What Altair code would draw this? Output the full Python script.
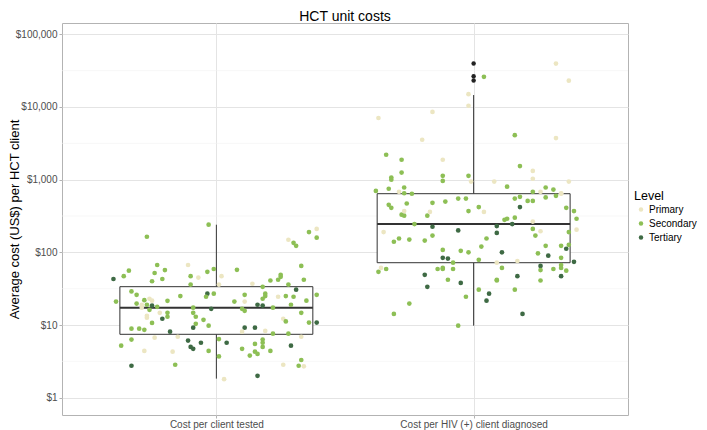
import altair as alt
import pandas as pd

# ---------------- data ----------------
chart_title = "HCT unit costs"
categories = ["Cost per client tested", "Cost per HIV (+) client diagnosed"]
levels = ["Primary", "Secondary", "Tertiary"]
level_colors = ["#ECE6C2", "#8DBF55", "#3E6A44"]
level_codes = {"P": "Primary", "S": "Secondary", "T": "Tertiary"}

# box-plot summaries (per category)
box_q1 = [7.45, 72]
box_median = [17.3, 245]
box_q3 = [33.7, 641]
box_lower = [1.83, 9.8]
box_upper = [240, 14600]

# outliers drawn by the box plot
outlier_cat = [2, 2, 2]
outlier_cost = [39600, 26400, 23200]

# jittered points: cost per client tested
tested_jitter = [
    -0.03, -0.27, -0.11, -0.23, -0.34, -0.24, -0.20, -0.40, -0.36, -0.10,
    -0.07, -0.035, -0.01, -0.25, -0.21, -0.10, -0.33, -0.31, -0.14, -0.19,
    -0.035, -0.01, -0.04, -0.39, -0.31, -0.28, -0.26, -0.25, -0.29, -0.27,
    -0.25, -0.23, -0.26, -0.29, -0.09, -0.02, -0.22, -0.19, -0.09, -0.27,
    -0.27, -0.21, -0.08, -0.19, -0.05, -0.25, -0.08, -0.03, -0.09, -0.33,
    -0.30, -0.28, -0.18, -0.24, -0.15, -0.11, -0.06, -0.33, -0.37, -0.10,
    -0.09, -0.03, -0.28, -0.17, -0.33, -0.16,
    0.36, 0.39, 0.39, 0.28, 0.30, 0.31, 0.08, 0.02, 0.33, 0.25,
    0.25, 0.24, 0.21, 0.34, 0.14, 0.28, 0.01, 0.18, 0.31, 0.19,
    0.19, 0.11, 0.24, 0.27, 0.30, 0.39, 0.35, 0.18, 0.07, 0.11,
    0.16, 0.18, 0.29, 0.22, 0.10, 0.11, 0.33, 0.26, 0.27, 0.36,
    0.39, 0.11, 0.15, 0.19, 0.10, 0.22, 0.28, 0.33, 0.01, 0.04,
    0.18, 0.18, 0.15, 0.18, 0.29, 0.10, 0.21, 0.15, 0.16, 0.13,
    0.01, 0.33, 0.32, 0.34, 0.26, 0.16, 0.03,
]
tested_cost = [
    240, 164, 67, 67, 56, 52, 57, 43, 47, 47,
    45, 54, 59, 40, 43, 36, 29, 26, 25, 21.5,
    27, 27, 24.5, 21, 19.7, 22, 23, 21.6, 19, 19,
    18.5, 17.8, 16.2, 17.3, 17.3, 16.7, 14.7, 14.7, 14.7, 13.4,
    12.6, 12.2, 13, 13, 11.8, 10.7, 10.4, 9.8, 9.2, 8.9,
    8.9, 8.6, 8.1, 6.7, 6.9, 6.1, 5.7, 6.3, 5.2, 5.0,
    4.7, 4.4, 4.4, 4.3, 2.75, 2.84,
    190, 210, 159, 149, 135, 123, 57.5, 47, 65, 49,
    46, 42, 41, 42, 37, 36, 36, 33.5, 30.6, 27,
    25, 26, 24.5, 25, 24.5, 26, 21.6, 23, 21, 21,
    19, 18.5, 19, 17.3, 16.7, 15.7, 14.7, 12.2, 11.2, 10.8,
    10.8, 9.2, 9.2, 8.3, 8.1, 7.6, 7.6, 6.9, 6.4, 5.7,
    6.3, 5.7, 5.5, 5.0, 5.2, 4.7, 4.4, 4.3, 4.0, 3.8,
    3.7, 3.3, 2.75, 2.7, 2.84, 2.0, 1.8,
]
tested_level = list(
    "SSPSSSSTSS" "PSSSSSSSSS" "TSSSSSPPPS" "TSSPSTPSSP" "PTSSSSSSTS"
    "SSTPPTTSST" "TSPPTS"
    "SPSPSSSPSS" "SSSSPSPSTS" "SSPSSSSSSP" "TTSSSSSPSS" "TTTPPSSPST"
    "SSSSTSSSSS" "SSSPPTP"
)

# jittered points: cost per HIV (+) client diagnosed
diagnosed_jitter = [
    -0.02, -0.02, -0.37, -0.16, -0.20, -0.12, -0.34, -0.28, -0.28, -0.32,
    -0.32, -0.12, -0.12, -0.02, -0.01, -0.27, -0.33, -0.38, -0.29, -0.27,
    -0.24,
    0.04, 0.32, 0.37, 0.16, 0.32, 0.18, 0.23, 0.23, 0.08, 0.37,
    0.13, 0.28, 0.31, 0.23, 0.26, 0.34,
    -0.33, -0.32, -0.26, -0.16, -0.11, -0.06, -0.03, -0.02, -0.28, -0.27,
    -0.27, -0.18, -0.17, -0.23, -0.16, -0.06, -0.35, -0.31, -0.29, -0.25,
    -0.19, -0.16, -0.12, -0.05, -0.02, -0.12, -0.10, -0.08, -0.37, -0.36,
    -0.34, -0.14, -0.12, -0.12, -0.08, -0.19, -0.10, -0.05, -0.18, -0.03,
    -0.25, -0.31, -0.06,
    0.16, 0.18, 0.21, 0.23, 0.28, 0.32, 0.34, 0.18, 0.02, 0.04,
    0.36, 0.39, 0.40, 0.12, 0.13, 0.16, 0.15, 0.09, 0.09, 0.23,
    0.23, 0.24, 0.26, 0.37, 0.40, 0.05, 0.03, 0.28, 0.34, 0.37,
    0.36, 0.11, 0.25, 0.29, 0.34, 0.02, 0.09, 0.17, 0.39, 0.11,
    0.26, 0.26, 0.31, 0.34, 0.34, 0.36, 0.17, 0.34, 0.09, 0.09,
    0.26, 0.02, 0.16, 0.06, 0.05, 0.19,
]
diagnosed_cost = [
    15000, 10400, 7050, 8560, 3540, 1880, 2200, 1880, 1250, 1070,
    1000, 1130, 960, 1130, 940, 780, 750, 700, 680, 650,
    640,
    26000, 39600, 23000, 4100, 3730, 1540, 1320, 1030, 940, 940,
    800, 780, 730, 680, 680, 650,
    450, 410, 470, 480, 500, 550, 550, 370, 330, 320,
    370, 320, 360, 245, 225, 200, 190, 140, 155, 150,
    145, 170, 108, 105, 100, 84, 82, 72, 54, 61,
    59, 59, 59, 61, 59, 49, 42, 38, 33.5, 24.5,
    19.7, 14.2, 9.8,
    550, 580, 510, 510, 570, 600, 640, 420, 420, 360,
    410, 370, 290, 280, 290, 300, 245, 230, 185, 265,
    210, 170, 195, 190, 205, 155, 120, 123, 123, 127,
    112, 100, 97, 90, 84, 79, 72, 76, 74, 61,
    65, 57, 59, 61, 67, 56, 47, 47, 42, 41,
    41, 30.6, 30.6, 27, 21.6, 14.2,
]
diagnosed_level = list(
    "PPPPPPSSSS" "SSSSPSSSPS" "S"
    "SPPSPSPPPP" "SSSSPP"
    "SSSSSSSSSS" "PSPSTTPSSS" "SSSSSTTSSP" "SSSSSTSTTS" "SSS"
    "SSSSSSPTSP" "SSSSSSTTTP" "SSPSPSSSSS" "TTSTSSPPTS" "TSSSSSTTSS"
    "SSSTTT"
)

y_ticks = [1, 10, 100, 1000, 10000, 100000]
minor_grid = [10 ** (k + 0.5) for k in range(-1, 6)]

# ---------------- tables ----------------
points = pd.concat([
    pd.DataFrame({"idx": 1, "jitter": tested_jitter, "cost": tested_cost,
                  "level": [level_codes[c] for c in tested_level]}),
    pd.DataFrame({"idx": 2, "jitter": diagnosed_jitter, "cost": diagnosed_cost,
                  "level": [level_codes[c] for c in diagnosed_level]}),
], ignore_index=True)

boxes = pd.DataFrame({"idx": [1, 2], "q1": box_q1, "med": box_median,
                      "q3": box_q3, "lo": box_lower, "hi": box_upper})
outliers = pd.DataFrame({"idx": outlier_cat, "cost": outlier_cost})
minor_df = pd.DataFrame({"v": minor_grid})
title_df = pd.DataFrame({"t": [chart_title]})

FONT = "Liberation Sans"
W, H = 566, 392
x_scale = alt.Scale(domain=[0.4, 2.6], nice=False, zero=False)
y_scale = alt.Scale(type="log", domain=[0.578, 143100], nice=False)
BOX_HALF = 0.375
DARK = "#333333"
Y_TITLE = "Average cost (US$) per HCT client"

label_expr = ("datum.value == 1 ? '" + categories[0] + "' : '" + categories[1] + "'")

x_axis = alt.Axis(values=[1, 2], labelExpr=label_expr, title="", grid=True,
                  labelFlush=False, labelOverlap=False, labelPadding=1)
y_axis = alt.Axis(values=y_ticks, format="$,.0f", title=Y_TITLE, grid=True,
                  labelFlush=False, labelOverlap=False, labelPadding=2,
                  titleX=-41)


def X(field):
    return alt.X(field, scale=x_scale, axis=x_axis)


def Y(field):
    return alt.Y(field, scale=y_scale, axis=y_axis)


minor = alt.Chart(minor_df).mark_rule(color="#F1F1F1", strokeWidth=0.6).encode(
    y=Y("v:Q")
)
whisk_lo = alt.Chart(boxes).mark_rule(color=DARK, strokeWidth=1).encode(
    x=X("idx:Q"), y=Y("lo:Q"), y2="q1:Q",
)
whisk_hi = alt.Chart(boxes).mark_rule(color=DARK, strokeWidth=1).encode(
    x=X("idx:Q"), y=Y("q3:Q"), y2="hi:Q",
)
box = alt.Chart(boxes).transform_calculate(
    xl=f"datum.idx - {BOX_HALF}", xr=f"datum.idx + {BOX_HALF}"
).mark_rect(fill="white", stroke=DARK, strokeWidth=1).encode(
    x=X("xl:Q"), x2="xr:Q", y=Y("q1:Q"), y2="q3:Q",
)
median = alt.Chart(boxes).transform_calculate(
    xl=f"datum.idx - {BOX_HALF}", xr=f"datum.idx + {BOX_HALF}"
).mark_rule(color=DARK, strokeWidth=2).encode(
    x=X("xl:Q"), x2="xr:Q", y=Y("med:Q"),
)
outl = alt.Chart(outliers).mark_circle(size=20, color="#222222", opacity=1).encode(
    x=X("idx:Q"), y=Y("cost:Q"),
)
pts = alt.Chart(points).transform_calculate(
    xpos="datum.idx + datum.jitter"
).mark_circle(size=22, opacity=1).encode(
    x=X("xpos:Q"),
    y=Y("cost:Q"),
    color=alt.Color("level:N", scale=alt.Scale(domain=levels, range=level_colors),
                    legend=alt.Legend(title="Level")),
)
title_mark = alt.Chart(title_df).mark_text(
    font=FONT, fontSize=14, color="black", align="center", baseline="alphabetic"
).encode(
    text="t:N", x=alt.value(W / 2), y=alt.value(-2),
)

chart = alt.layer(minor, whisk_lo, whisk_hi, box, median, outl, pts, title_mark).properties(
    width=W, height=H,
    autosize=alt.AutoSizeParams(type="none"),
    padding={"left": 54, "top": 15, "right": 71, "bottom": 15},
).configure_view(
    stroke="#B3B3B3", strokeWidth=1
).configure_axis(
    domain=False, labelFont=FONT, titleFont=FONT, labelFontSize=10,
    labelColor="#4D4D4D", tickColor="#B3B3B3", tickSize=3, tickWidth=1,
    gridColor="#E4E4E4", gridWidth=1, titleFontSize=13, titleFontWeight="normal",
    titleColor="black",
).configure_legend(
    orient="none", legendX=572, legendY=167, padding=0,
    titleFont=FONT, titleFontSize=12.5, titleFontWeight="normal", titleColor="black",
    titlePadding=2, labelFont=FONT, labelFontSize=10, labelColor="black",
    symbolType="circle", symbolSize=20, symbolStrokeWidth=0, rowPadding=4,
    labelOffset=3, symbolOffset=2,
)

chart.save("out.html", embed_options={"renderer": "svg", "actions": False})
